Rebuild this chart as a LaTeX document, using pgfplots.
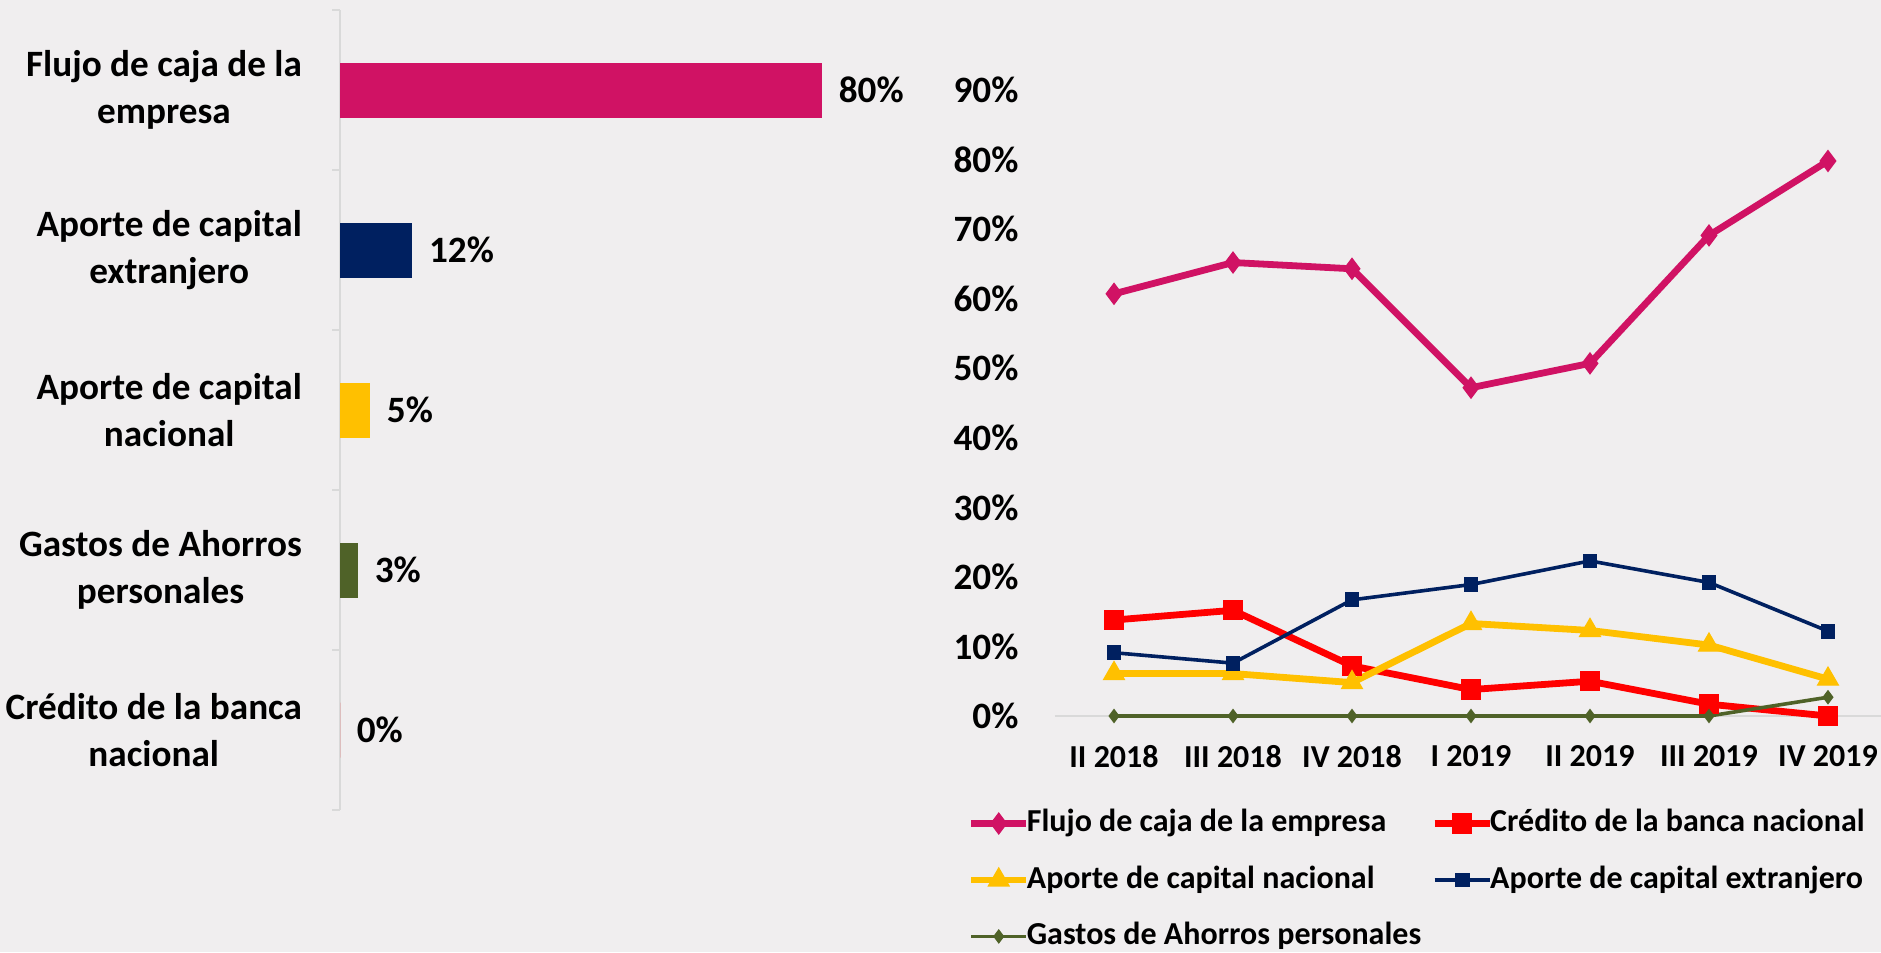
\documentclass[border=0pt]{standalone}
\usepackage{pgfplots}
\pgfplotsset{compat=1.18}
\usepackage{fontspec}
\setmainfont{Carlito}
\definecolor{bg}{RGB}{240,238,239}
\definecolor{cmag}{RGB}{208,18,100}
\definecolor{cnavy}{RGB}{0,32,96}
\definecolor{cyel}{RGB}{255,192,0}
\definecolor{colive}{RGB}{79,98,40}
\definecolor{cred}{RGB}{255,0,0}
\definecolor{cgrid}{RGB}{217,217,217}
\newcommand{\fbig}{\fontsize{9.3}{11.75}\selectfont\bfseries}
\newcommand{\fsmall}{\fontsize{8}{9.6}\selectfont\bfseries}
\begin{document}
\begin{tikzpicture}
\path[use as bounding box, fill=bg] (0,0) rectangle (470.25pt,238pt);
% ---------- left: horizontal bars ----------
\begin{axis}[
  at={(85pt,35.5pt)}, anchor=south west, scale only axis,
  width=150.625pt, height=200pt,
  xbar, bar width=13.75pt,
  xmin=0, xmax=100, ymin=-0.5, ymax=4.5, y dir=reverse,
  axis lines*=left,
  x axis line style={draw=none}, xtick=\empty,
  y axis line style={draw=cgrid, line width=0.5pt},
  ytick={0,1,2,3,4},
  yticklabels={{Flujo de caja de la\\empresa},{Aporte de capital\\extranjero},{Aporte de capital\\nacional},{Gastos de Ahorros\\personales},{Crédito de la banca\\nacional}},
  yticklabel style={align=center, font=\fbig, xshift=-6pt},
  major tick length=0pt,
  extra y ticks={-0.5,0.5,1.5,2.5,3.5,4.5}, extra y tick labels={},
  extra y tick style={major tick length=2pt, tick align=outside, tick style={draw=cgrid, line width=0.5pt}},
  point meta=explicit symbolic,
  nodes near coords,
  nodes near coords style={anchor=west, font=\fbig, inner sep=0pt, xshift=4pt, text=black},
  clip=false,
]
\addplot[fill=cmag, draw=none, bar shift=0pt] coordinates {(80,0) [80\%]};
\addplot[fill=cnavy, draw=none, bar shift=0pt] coordinates {(12,1) [12\%]};
\addplot[fill=cyel, draw=none, bar shift=0pt] coordinates {(5,2) [5\%]};
\addplot[fill=colive, draw=none, bar shift=0pt] coordinates {(3,3) [3\%]};
\addplot[fill=cred, draw=none, bar shift=0pt] coordinates {(0,4) [0\%]};
\end{axis}
% ---------- right: lines ----------
\begin{axis}[
  at={(263.625pt,59pt)}, anchor=south west, scale only axis,
  width=208.25pt, height=156.5pt,
  xmin=-0.5, xmax=6.5, ymin=0, ymax=90,
  axis x line*=bottom, axis y line*=left,
  x axis line style={draw=cgrid, line width=0.5pt},
  y axis line style={draw=none},
  major tick length=0pt,
  xtick={0,1,2,3,4,5,6},
  xticklabels={II 2018,III 2018,IV 2018,I 2019,II 2019,III 2019,IV 2019},
  xticklabel style={font=\fsmall, yshift=-3.8pt},
  ytick={0,10,20,30,40,50,60,70,80,90},
  yticklabels={0\%,10\%,20\%,30\%,40\%,50\%,60\%,70\%,80\%,90\%},
  yticklabel style={font=\fbig, xshift=-5.5pt},
  clip=false,
  legend columns=2,
  legend cell align=left,
  legend style={draw=none, fill=none, at={(-0.105,-0.135)}, anchor=north west,
    font=\fsmall, inner sep=0pt, row sep=3pt,
    /tikz/every odd column/.append style={column sep=-2.7pt},
    /tikz/every even column/.append style={column sep=0.5pt}},
  legend image code/.code={\draw[mark repeat=2,mark phase=2,#1] plot coordinates {(0pt,0pt) (6.875pt,0pt) (13.75pt,0pt)};},
]
\addplot[cmag, line width=1.7pt, mark=diamond*, mark size=2.6pt, mark options={line width=0.3pt}] coordinates {(0,60.7)(1,65.2)(2,64.3)(3,47.2)(4,50.7)(5,69.1)(6,79.8)};
\addlegendentry{Flujo de caja de la empresa}
\addplot[cred, line width=1.7pt, mark=square*, mark size=2.4pt, mark options={line width=0.3pt}] coordinates {(0,13.8)(1,15.2)(2,7.2)(3,3.8)(4,5.0)(5,1.7)(6,0)};
\addlegendentry{Crédito de la banca nacional}
\addplot[cyel, line width=1.7pt, mark=triangle*, mark size=3pt, mark options={line width=0.3pt}] coordinates {(0,6.1)(1,6.1)(2,4.8)(3,13.3)(4,12.3)(5,10.2)(6,5.3)};
\addlegendentry{Aporte de capital nacional}
\addplot[cnavy, line width=0.9pt, mark=square*, mark size=1.7pt, mark options={line width=0.3pt}] coordinates {(0,9.1)(1,7.6)(2,16.7)(3,18.9)(4,22.3)(5,19.2)(6,12.2)};
\addlegendentry{Aporte de capital extranjero}
\addplot[colive, line width=0.9pt, mark=diamond*, mark size=1.6pt, mark options={line width=0.3pt}] coordinates {(0,0)(1,0)(2,0)(3,0)(4,0)(5,0)(6,2.7)};
\addlegendentry{Gastos de Ahorros personales}
\end{axis}
\end{tikzpicture}
\end{document}
